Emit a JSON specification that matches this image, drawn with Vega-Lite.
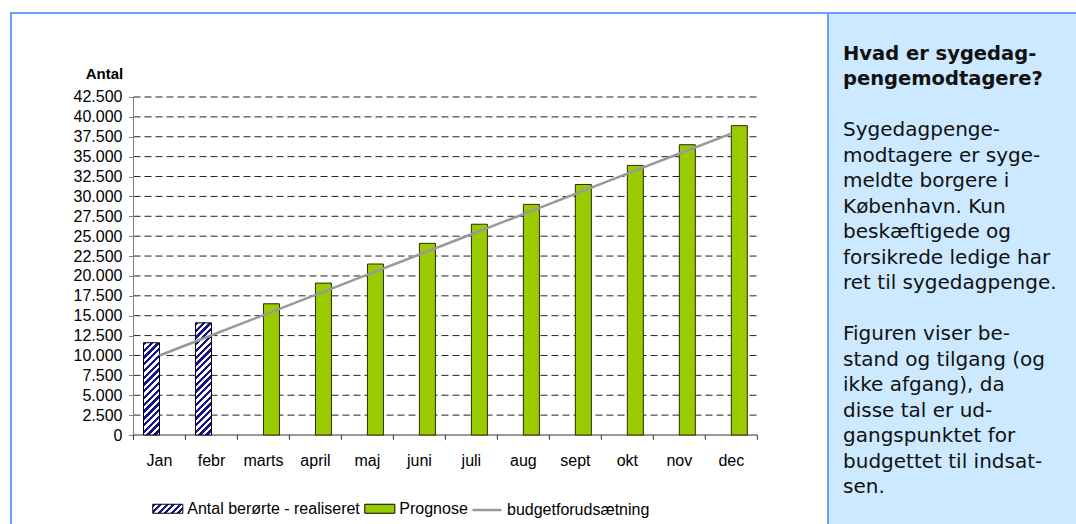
{
  "$schema": "https://vega.github.io/schema/vega-lite/v6.json",
  "padding": {"left": 10, "top": 12, "right": 0, "bottom": 0},
  "background": "white",
  "spacing": 0,
  "bounds": "flush",
  "config": {
    "font": "Liberation Sans",
    "view": {"stroke": "#6a9bff", "strokeWidth": 2},
    "axis": {"labelFont": "Liberation Sans", "titleFont": "Liberation Sans", "labelColor": "#000", "titleColor": "#000", "labelOverlap": false},
    "axisY": {"labelOverlap": false},
    "legend": {"labelFont": "Liberation Sans", "labelColor": "#000"}
  },
  "resolve": {"scale": {"x": "independent", "y": "independent"}},
  "datasets": {
    "bars": [
      {"month": "Jan", "serie": "Antal berørte - realiseret", "value": 11600},
      {"month": "febr", "serie": "Antal berørte - realiseret", "value": 14100},
      {"month": "marts", "serie": "Prognose", "value": 16500},
      {"month": "april", "serie": "Prognose", "value": 19100},
      {"month": "maj", "serie": "Prognose", "value": 21500},
      {"month": "juni", "serie": "Prognose", "value": 24100},
      {"month": "juli", "serie": "Prognose", "value": 26500},
      {"month": "aug", "serie": "Prognose", "value": 29000},
      {"month": "sept", "serie": "Prognose", "value": 31500},
      {"month": "okt", "serie": "Prognose", "value": 33900},
      {"month": "nov", "serie": "Prognose", "value": 36500},
      {"month": "dec", "serie": "Prognose", "value": 38900}
    ],
    "budget": [
      {"month": "Jan", "budget": 10000},
      {"month": "febr", "budget": 12540},
      {"month": "marts", "budget": 15080},
      {"month": "april", "budget": 17620},
      {"month": "maj", "budget": 20160},
      {"month": "juni", "budget": 22700},
      {"month": "juli", "budget": 25240},
      {"month": "aug", "budget": 27780},
      {"month": "sept", "budget": 30320},
      {"month": "okt", "budget": 32860},
      {"month": "nov", "budget": 35400},
      {"month": "dec", "budget": 37900}
    ],
    "grid": [
      {"g": 2500}, {"g": 5000}, {"g": 7500}, {"g": 10000}, {"g": 12500}, {"g": 15000},
      {"g": 17500}, {"g": 20000}, {"g": 22500}, {"g": 25000}, {"g": 27500}, {"g": 30000},
      {"g": 32500}, {"g": 35000}, {"g": 37500}, {"g": 40000}, {"g": 42500}
    ],
    "heading": [
      {"line": 0, "text": "Hvad er sygedag-"},
      {"line": 1, "text": "pengemodtagere?"}
    ],
    "body": [
      {"line": 3, "text": "Sygedagpenge-"},
      {"line": 4, "text": "modtagere er syge-"},
      {"line": 5, "text": "meldte borgere i"},
      {"line": 6, "text": "København. Kun"},
      {"line": 7, "text": "beskæftigede og"},
      {"line": 8, "text": "forsikrede ledige har"},
      {"line": 9, "text": "ret til sygedagpenge."},
      {"line": 11, "text": "Figuren viser be-"},
      {"line": 12, "text": "stand og tilgang (og"},
      {"line": 13, "text": "ikke afgang), da"},
      {"line": 14, "text": "disse tal er ud-"},
      {"line": 15, "text": "gangspunktet for"},
      {"line": 16, "text": "budgettet til indsat-"},
      {"line": 17, "text": "sen."}
    ],
    "one": [{"k": 1}]
  },
  "hconcat": [
    {
      "width": 817,
      "height": 514,
      "layer": [
        {
          "data": {"name": "grid"},
          "mark": {"type": "rule", "color": "#222222", "strokeWidth": 1, "strokeDash": [7, 4]},
          "encoding": {
            "y": {"field": "g", "type": "quantitative", "scale": {"domain": [-11568, 53062], "nice": false, "zero": false},
              "axis": {"title": "Antal", "values": [0, 2500, 5000, 7500, 10000, 12500, 15000, 17500, 20000, 22500, 25000, 27500, 30000, 32500, 35000, 37500, 40000, 42500], "domain": false, "grid": false, "offset": -122.5, "tickSize": 5, "tickColor": "#808080", "labelFontSize": 16, "labelPadding": 6.5, "labelOverlap": false, "labelFlush": false, "labelExpr": "replace(format(datum.value, ','), ',', '.')", "titleAngle": 0, "titleX": -29.5, "titleY": 65.5, "titleAlign": "center", "titleBaseline": "alphabetic", "titleFontSize": 15, "titleFontWeight": "bold"}},
            "x": {"datum": "Jan", "type": "nominal", "bandPosition": 0, "scale": {"type": "band", "domain": ["Jan", "febr", "marts", "april", "maj", "juni", "juli", "aug", "sept", "okt", "nov", "dec"], "range": [122.5, 746.3], "paddingInner": 0, "paddingOuter": 0},
              "axis": {"title": null, "domain": false, "grid": false, "ticks": true, "tickOpacity": 0, "tickSize": 5, "labelAngle": 0, "labelFontSize": 16, "labelPadding": 12, "labelOverlap": false, "offset": -92}},
            "x2": {"datum": "dec", "bandPosition": 1}
          }
        },
        {
          "data": {"name": "one"},
          "mark": {"type": "rule", "color": "#808080", "strokeWidth": 1},
          "encoding": {
            "x": {"datum": "Jan", "type": "nominal", "bandPosition": 0, "scale": {"type": "band", "domain": ["Jan", "febr", "marts", "april", "maj", "juni", "juli", "aug", "sept", "okt", "nov", "dec"], "range": [122.5, 746.3], "paddingInner": 0, "paddingOuter": 0},
              "axis": {"title": null, "domain": false, "grid": false, "ticks": true, "tickOpacity": 0, "tickSize": 5, "labelAngle": 0, "labelFontSize": 16, "labelPadding": 12, "labelOverlap": false, "offset": -92}},
            "y": {"datum": 0, "type": "quantitative", "scale": {"domain": [-11568, 53062], "nice": false, "zero": false},
              "axis": {"title": "Antal", "values": [0, 2500, 5000, 7500, 10000, 12500, 15000, 17500, 20000, 22500, 25000, 27500, 30000, 32500, 35000, 37500, 40000, 42500], "domain": false, "grid": false, "offset": -122.5, "tickSize": 5, "tickColor": "#808080", "labelFontSize": 16, "labelPadding": 6.5, "labelOverlap": false, "labelFlush": false, "labelExpr": "replace(format(datum.value, ','), ',', '.')", "titleAngle": 0, "titleX": -29.5, "titleY": 65.5, "titleAlign": "center", "titleBaseline": "alphabetic", "titleFontSize": 15, "titleFontWeight": "bold"}},
            "y2": {"datum": 42500}
          }
        },
        {
          "data": {"name": "one"},
          "mark": {"type": "rule", "color": "#333333", "strokeWidth": 1},
          "encoding": {
            "x": {"datum": "Jan", "type": "nominal", "bandPosition": 0, "scale": {"type": "band", "domain": ["Jan", "febr", "marts", "april", "maj", "juni", "juli", "aug", "sept", "okt", "nov", "dec"], "range": [122.5, 746.3], "paddingInner": 0, "paddingOuter": 0},
              "axis": {"title": null, "domain": false, "grid": false, "ticks": true, "tickOpacity": 0, "tickSize": 5, "labelAngle": 0, "labelFontSize": 16, "labelPadding": 12, "labelOverlap": false, "offset": -92}},
            "x2": {"datum": "dec", "bandPosition": 1},
            "y": {"datum": 0, "type": "quantitative", "scale": {"domain": [-11568, 53062], "nice": false, "zero": false},
              "axis": {"title": "Antal", "values": [0, 2500, 5000, 7500, 10000, 12500, 15000, 17500, 20000, 22500, 25000, 27500, 30000, 32500, 35000, 37500, 40000, 42500], "domain": false, "grid": false, "offset": -122.5, "tickSize": 5, "tickColor": "#808080", "labelFontSize": 16, "labelPadding": 6.5, "labelOverlap": false, "labelFlush": false, "labelExpr": "replace(format(datum.value, ','), ',', '.')", "titleAngle": 0, "titleX": -29.5, "titleY": 65.5, "titleAlign": "center", "titleBaseline": "alphabetic", "titleFontSize": 15, "titleFontWeight": "bold"}}
          }
        },
        {
          "data": {"name": "bars"},
          "mark": {"type": "rule", "color": "#333333", "strokeWidth": 1},
          "encoding": {
            "x": {"field": "month", "type": "nominal", "bandPosition": 0, "scale": {"type": "band", "domain": ["Jan", "febr", "marts", "april", "maj", "juni", "juli", "aug", "sept", "okt", "nov", "dec"], "range": [122.5, 746.3], "paddingInner": 0, "paddingOuter": 0},
              "axis": {"title": null, "domain": false, "grid": false, "ticks": true, "tickOpacity": 0, "tickSize": 5, "labelAngle": 0, "labelFontSize": 16, "labelPadding": 12, "labelOverlap": false, "offset": -92}},
            "y": {"datum": 0, "type": "quantitative", "scale": {"domain": [-11568, 53062], "nice": false, "zero": false},
              "axis": {"title": "Antal", "values": [0, 2500, 5000, 7500, 10000, 12500, 15000, 17500, 20000, 22500, 25000, 27500, 30000, 32500, 35000, 37500, 40000, 42500], "domain": false, "grid": false, "offset": -122.5, "tickSize": 5, "tickColor": "#808080", "labelFontSize": 16, "labelPadding": 6.5, "labelOverlap": false, "labelFlush": false, "labelExpr": "replace(format(datum.value, ','), ',', '.')", "titleAngle": 0, "titleX": -29.5, "titleY": 65.5, "titleAlign": "center", "titleBaseline": "alphabetic", "titleFontSize": 15, "titleFontWeight": "bold"}},
            "y2": {"datum": -600}
          }
        },
        {
          "data": {"name": "one"},
          "mark": {"type": "rule", "color": "#333333", "strokeWidth": 1},
          "encoding": {
            "x": {"datum": "dec", "type": "nominal", "bandPosition": 1, "scale": {"type": "band", "domain": ["Jan", "febr", "marts", "april", "maj", "juni", "juli", "aug", "sept", "okt", "nov", "dec"], "range": [122.5, 746.3], "paddingInner": 0, "paddingOuter": 0},
              "axis": {"title": null, "domain": false, "grid": false, "ticks": true, "tickOpacity": 0, "tickSize": 5, "labelAngle": 0, "labelFontSize": 16, "labelPadding": 12, "labelOverlap": false, "offset": -92}},
            "y": {"datum": 0, "type": "quantitative", "scale": {"domain": [-11568, 53062], "nice": false, "zero": false},
              "axis": {"title": "Antal", "values": [0, 2500, 5000, 7500, 10000, 12500, 15000, 17500, 20000, 22500, 25000, 27500, 30000, 32500, 35000, 37500, 40000, 42500], "domain": false, "grid": false, "offset": -122.5, "tickSize": 5, "tickColor": "#808080", "labelFontSize": 16, "labelPadding": 6.5, "labelOverlap": false, "labelFlush": false, "labelExpr": "replace(format(datum.value, ','), ',', '.')", "titleAngle": 0, "titleX": -29.5, "titleY": 65.5, "titleAlign": "center", "titleBaseline": "alphabetic", "titleFontSize": 15, "titleFontWeight": "bold"}},
            "y2": {"datum": -600}
          }
        },
        {
          "data": {"name": "bars"},
          "transform": [{"filter": "datum.month === 'Jan'"}],
          "mark": {
            "type": "bar", "stroke": "#000000", "strokeWidth": 1,
            "fill": {"gradient": "linear", "x1": 0, "y1": 0, "x2": 0.1976, "y2": 1.1392, "stops": [
              {"offset": 0, "color": "#14148a"}, {"offset": 0.03125, "color": "#14148a"}, {"offset": 0.03125, "color": "#ffffff"}, {"offset": 0.0625, "color": "#ffffff"},
              {"offset": 0.0625, "color": "#14148a"}, {"offset": 0.09375, "color": "#14148a"}, {"offset": 0.09375, "color": "#ffffff"}, {"offset": 0.125, "color": "#ffffff"},
              {"offset": 0.125, "color": "#14148a"}, {"offset": 0.15625, "color": "#14148a"}, {"offset": 0.15625, "color": "#ffffff"}, {"offset": 0.1875, "color": "#ffffff"},
              {"offset": 0.1875, "color": "#14148a"}, {"offset": 0.21875, "color": "#14148a"}, {"offset": 0.21875, "color": "#ffffff"}, {"offset": 0.25, "color": "#ffffff"},
              {"offset": 0.25, "color": "#14148a"}, {"offset": 0.28125, "color": "#14148a"}, {"offset": 0.28125, "color": "#ffffff"}, {"offset": 0.3125, "color": "#ffffff"},
              {"offset": 0.3125, "color": "#14148a"}, {"offset": 0.34375, "color": "#14148a"}, {"offset": 0.34375, "color": "#ffffff"}, {"offset": 0.375, "color": "#ffffff"},
              {"offset": 0.375, "color": "#14148a"}, {"offset": 0.40625, "color": "#14148a"}, {"offset": 0.40625, "color": "#ffffff"}, {"offset": 0.4375, "color": "#ffffff"},
              {"offset": 0.4375, "color": "#14148a"}, {"offset": 0.46875, "color": "#14148a"}, {"offset": 0.46875, "color": "#ffffff"}, {"offset": 0.5, "color": "#ffffff"},
              {"offset": 0.5, "color": "#14148a"}, {"offset": 0.53125, "color": "#14148a"}, {"offset": 0.53125, "color": "#ffffff"}, {"offset": 0.5625, "color": "#ffffff"},
              {"offset": 0.5625, "color": "#14148a"}, {"offset": 0.59375, "color": "#14148a"}, {"offset": 0.59375, "color": "#ffffff"}, {"offset": 0.625, "color": "#ffffff"},
              {"offset": 0.625, "color": "#14148a"}, {"offset": 0.65625, "color": "#14148a"}, {"offset": 0.65625, "color": "#ffffff"}, {"offset": 0.6875, "color": "#ffffff"},
              {"offset": 0.6875, "color": "#14148a"}, {"offset": 0.71875, "color": "#14148a"}, {"offset": 0.71875, "color": "#ffffff"}, {"offset": 0.75, "color": "#ffffff"},
              {"offset": 0.75, "color": "#14148a"}, {"offset": 0.78125, "color": "#14148a"}, {"offset": 0.78125, "color": "#ffffff"}, {"offset": 0.8125, "color": "#ffffff"},
              {"offset": 0.8125, "color": "#14148a"}, {"offset": 0.84375, "color": "#14148a"}, {"offset": 0.84375, "color": "#ffffff"}, {"offset": 0.875, "color": "#ffffff"},
              {"offset": 0.875, "color": "#14148a"}, {"offset": 0.90625, "color": "#14148a"}, {"offset": 0.90625, "color": "#ffffff"}, {"offset": 0.9375, "color": "#ffffff"},
              {"offset": 0.9375, "color": "#14148a"}, {"offset": 0.96875, "color": "#14148a"}, {"offset": 0.96875, "color": "#ffffff"}, {"offset": 1, "color": "#ffffff"}
            ]}
          },
          "encoding": {
            "x": {"field": "month", "type": "nominal", "scale": {"type": "band", "domain": ["Jan", "febr", "marts", "april", "maj", "juni", "juli", "aug", "sept", "okt", "nov", "dec"], "range": [122.5, 746.3], "paddingInner": 0, "paddingOuter": 0},
              "axis": {"title": null, "domain": false, "grid": false, "ticks": true, "tickOpacity": 0, "tickSize": 5, "labelAngle": 0, "labelFontSize": 16, "labelPadding": 12, "labelOverlap": false, "offset": -92}},
            "xOffset": {"field": "serie", "type": "nominal", "scale": {"domain": ["Antal berørte - realiseret", "Prognose"], "paddingInner": 0, "paddingOuter": 0.6244}},
            "y": {"field": "value", "type": "quantitative", "scale": {"domain": [-11568, 53062], "nice": false, "zero": false},
              "axis": {"title": "Antal", "values": [0, 2500, 5000, 7500, 10000, 12500, 15000, 17500, 20000, 22500, 25000, 27500, 30000, 32500, 35000, 37500, 40000, 42500], "domain": false, "grid": false, "offset": -122.5, "tickSize": 5, "tickColor": "#808080", "labelFontSize": 16, "labelPadding": 6.5, "labelOverlap": false, "labelFlush": false, "labelExpr": "replace(format(datum.value, ','), ',', '.')", "titleAngle": 0, "titleX": -29.5, "titleY": 65.5, "titleAlign": "center", "titleBaseline": "alphabetic", "titleFontSize": 15, "titleFontWeight": "bold"}},
            "y2": {"datum": 0}
          }
        },
        {
          "data": {"name": "bars"},
          "transform": [{"filter": "datum.month === 'febr'"}],
          "mark": {
            "type": "bar", "stroke": "#000000", "strokeWidth": 1,
            "fill": {"gradient": "linear", "x1": 0, "y1": 0, "x2": 0.1599, "y2": 1.12, "stops": [
              {"offset": 0, "color": "#14148a"}, {"offset": 0.02632, "color": "#14148a"}, {"offset": 0.02632, "color": "#ffffff"}, {"offset": 0.05263, "color": "#ffffff"},
              {"offset": 0.05263, "color": "#14148a"}, {"offset": 0.07895, "color": "#14148a"}, {"offset": 0.07895, "color": "#ffffff"}, {"offset": 0.10526, "color": "#ffffff"},
              {"offset": 0.10526, "color": "#14148a"}, {"offset": 0.13158, "color": "#14148a"}, {"offset": 0.13158, "color": "#ffffff"}, {"offset": 0.15789, "color": "#ffffff"},
              {"offset": 0.15789, "color": "#14148a"}, {"offset": 0.18421, "color": "#14148a"}, {"offset": 0.18421, "color": "#ffffff"}, {"offset": 0.21053, "color": "#ffffff"},
              {"offset": 0.21053, "color": "#14148a"}, {"offset": 0.23684, "color": "#14148a"}, {"offset": 0.23684, "color": "#ffffff"}, {"offset": 0.26316, "color": "#ffffff"},
              {"offset": 0.26316, "color": "#14148a"}, {"offset": 0.28947, "color": "#14148a"}, {"offset": 0.28947, "color": "#ffffff"}, {"offset": 0.31579, "color": "#ffffff"},
              {"offset": 0.31579, "color": "#14148a"}, {"offset": 0.34211, "color": "#14148a"}, {"offset": 0.34211, "color": "#ffffff"}, {"offset": 0.36842, "color": "#ffffff"},
              {"offset": 0.36842, "color": "#14148a"}, {"offset": 0.39474, "color": "#14148a"}, {"offset": 0.39474, "color": "#ffffff"}, {"offset": 0.42105, "color": "#ffffff"},
              {"offset": 0.42105, "color": "#14148a"}, {"offset": 0.44737, "color": "#14148a"}, {"offset": 0.44737, "color": "#ffffff"}, {"offset": 0.47368, "color": "#ffffff"},
              {"offset": 0.47368, "color": "#14148a"}, {"offset": 0.5, "color": "#14148a"}, {"offset": 0.5, "color": "#ffffff"}, {"offset": 0.52632, "color": "#ffffff"},
              {"offset": 0.52632, "color": "#14148a"}, {"offset": 0.55263, "color": "#14148a"}, {"offset": 0.55263, "color": "#ffffff"}, {"offset": 0.57895, "color": "#ffffff"},
              {"offset": 0.57895, "color": "#14148a"}, {"offset": 0.60526, "color": "#14148a"}, {"offset": 0.60526, "color": "#ffffff"}, {"offset": 0.63158, "color": "#ffffff"},
              {"offset": 0.63158, "color": "#14148a"}, {"offset": 0.65789, "color": "#14148a"}, {"offset": 0.65789, "color": "#ffffff"}, {"offset": 0.68421, "color": "#ffffff"},
              {"offset": 0.68421, "color": "#14148a"}, {"offset": 0.71053, "color": "#14148a"}, {"offset": 0.71053, "color": "#ffffff"}, {"offset": 0.73684, "color": "#ffffff"},
              {"offset": 0.73684, "color": "#14148a"}, {"offset": 0.76316, "color": "#14148a"}, {"offset": 0.76316, "color": "#ffffff"}, {"offset": 0.78947, "color": "#ffffff"},
              {"offset": 0.78947, "color": "#14148a"}, {"offset": 0.81579, "color": "#14148a"}, {"offset": 0.81579, "color": "#ffffff"}, {"offset": 0.84211, "color": "#ffffff"},
              {"offset": 0.84211, "color": "#14148a"}, {"offset": 0.86842, "color": "#14148a"}, {"offset": 0.86842, "color": "#ffffff"}, {"offset": 0.89474, "color": "#ffffff"},
              {"offset": 0.89474, "color": "#14148a"}, {"offset": 0.92105, "color": "#14148a"}, {"offset": 0.92105, "color": "#ffffff"}, {"offset": 0.94737, "color": "#ffffff"},
              {"offset": 0.94737, "color": "#14148a"}, {"offset": 0.97368, "color": "#14148a"}, {"offset": 0.97368, "color": "#ffffff"}, {"offset": 1, "color": "#ffffff"}
            ]}
          },
          "encoding": {
            "x": {"field": "month", "type": "nominal", "scale": {"type": "band", "domain": ["Jan", "febr", "marts", "april", "maj", "juni", "juli", "aug", "sept", "okt", "nov", "dec"], "range": [122.5, 746.3], "paddingInner": 0, "paddingOuter": 0},
              "axis": {"title": null, "domain": false, "grid": false, "ticks": true, "tickOpacity": 0, "tickSize": 5, "labelAngle": 0, "labelFontSize": 16, "labelPadding": 12, "labelOverlap": false, "offset": -92}},
            "xOffset": {"field": "serie", "type": "nominal", "scale": {"domain": ["Antal berørte - realiseret", "Prognose"], "paddingInner": 0, "paddingOuter": 0.6244}},
            "y": {"field": "value", "type": "quantitative", "scale": {"domain": [-11568, 53062], "nice": false, "zero": false},
              "axis": {"title": "Antal", "values": [0, 2500, 5000, 7500, 10000, 12500, 15000, 17500, 20000, 22500, 25000, 27500, 30000, 32500, 35000, 37500, 40000, 42500], "domain": false, "grid": false, "offset": -122.5, "tickSize": 5, "tickColor": "#808080", "labelFontSize": 16, "labelPadding": 6.5, "labelOverlap": false, "labelFlush": false, "labelExpr": "replace(format(datum.value, ','), ',', '.')", "titleAngle": 0, "titleX": -29.5, "titleY": 65.5, "titleAlign": "center", "titleBaseline": "alphabetic", "titleFontSize": 15, "titleFontWeight": "bold"}},
            "y2": {"datum": 0}
          }
        },
        {
          "data": {"name": "bars"},
          "transform": [{"filter": "datum.serie === 'Prognose'"}],
          "mark": {"type": "bar", "stroke": "#2b2b00", "strokeWidth": 1},
          "encoding": {
            "x": {"field": "month", "type": "nominal", "scale": {"type": "band", "domain": ["Jan", "febr", "marts", "april", "maj", "juni", "juli", "aug", "sept", "okt", "nov", "dec"], "range": [122.5, 746.3], "paddingInner": 0, "paddingOuter": 0},
              "axis": {"title": null, "domain": false, "grid": false, "ticks": true, "tickOpacity": 0, "tickSize": 5, "labelAngle": 0, "labelFontSize": 16, "labelPadding": 12, "labelOverlap": false, "offset": -92}},
            "xOffset": {"field": "serie", "type": "nominal", "scale": {"domain": ["Antal berørte - realiseret", "Prognose"], "paddingInner": 0, "paddingOuter": 0.6244}},
            "y": {"field": "value", "type": "quantitative", "scale": {"domain": [-11568, 53062], "nice": false, "zero": false},
              "axis": {"title": "Antal", "values": [0, 2500, 5000, 7500, 10000, 12500, 15000, 17500, 20000, 22500, 25000, 27500, 30000, 32500, 35000, 37500, 40000, 42500], "domain": false, "grid": false, "offset": -122.5, "tickSize": 5, "tickColor": "#808080", "labelFontSize": 16, "labelPadding": 6.5, "labelOverlap": false, "labelFlush": false, "labelExpr": "replace(format(datum.value, ','), ',', '.')", "titleAngle": 0, "titleX": -29.5, "titleY": 65.5, "titleAlign": "center", "titleBaseline": "alphabetic", "titleFontSize": 15, "titleFontWeight": "bold"}},
            "y2": {"datum": 0},
            "color": {
              "field": "serie", "type": "nominal",
              "scale": {"domain": ["Antal berørte - realiseret", "Prognose"], "range": [
                {"expr": "{gradient: 'linear', x1: 0, y1: 0, x2: 1.193, y2: 0.358, stops: [{offset: 0, color: '#14148a'}, {offset: 0.0833, color: '#14148a'}, {offset: 0.0833, color: '#ffffff'}, {offset: 0.1667, color: '#ffffff'}, {offset: 0.1667, color: '#14148a'}, {offset: 0.25, color: '#14148a'}, {offset: 0.25, color: '#ffffff'}, {offset: 0.3333, color: '#ffffff'}, {offset: 0.3333, color: '#14148a'}, {offset: 0.4167, color: '#14148a'}, {offset: 0.4167, color: '#ffffff'}, {offset: 0.5, color: '#ffffff'}, {offset: 0.5, color: '#14148a'}, {offset: 0.5833, color: '#14148a'}, {offset: 0.5833, color: '#ffffff'}, {offset: 0.6667, color: '#ffffff'}, {offset: 0.6667, color: '#14148a'}, {offset: 0.75, color: '#14148a'}, {offset: 0.75, color: '#ffffff'}, {offset: 0.8333, color: '#ffffff'}, {offset: 0.8333, color: '#14148a'}, {offset: 0.9167, color: '#14148a'}, {offset: 0.9167, color: '#ffffff'}, {offset: 1, color: '#ffffff'}]}"},
                "#99cc00"
              ]},
              "legend": {
                "orient": "none", "legendX": 141.3, "legendY": 480, "direction": "horizontal", "title": null,
                "labelFontSize": 16, "labelLimit": 400, "symbolType": "M-1,-0.3H1V0.3H-1Z", "symbolSize": 900,
                "symbolStrokeColor": "#000000", "symbolStrokeWidth": 1, "symbolOpacity": 1,
                "labelOffset": 4, "columnPadding": 2
              }
            }
          }
        },
        {
          "data": {"name": "budget"},
          "mark": {"type": "line", "strokeWidth": 2.5},
          "encoding": {
            "x": {"field": "month", "type": "nominal", "scale": {"type": "band", "domain": ["Jan", "febr", "marts", "april", "maj", "juni", "juli", "aug", "sept", "okt", "nov", "dec"], "range": [122.5, 746.3], "paddingInner": 0, "paddingOuter": 0},
              "axis": {"title": null, "domain": false, "grid": false, "ticks": true, "tickOpacity": 0, "tickSize": 5, "labelAngle": 0, "labelFontSize": 16, "labelPadding": 12, "labelOverlap": false, "offset": -92}},
            "y": {"field": "budget", "type": "quantitative", "scale": {"domain": [-11568, 53062], "nice": false, "zero": false},
              "axis": {"title": "Antal", "values": [0, 2500, 5000, 7500, 10000, 12500, 15000, 17500, 20000, 22500, 25000, 27500, 30000, 32500, 35000, 37500, 40000, 42500], "domain": false, "grid": false, "offset": -122.5, "tickSize": 5, "tickColor": "#808080", "labelFontSize": 16, "labelPadding": 6.5, "labelOverlap": false, "labelFlush": false, "labelExpr": "replace(format(datum.value, ','), ',', '.')", "titleAngle": 0, "titleX": -29.5, "titleY": 65.5, "titleAlign": "center", "titleBaseline": "alphabetic", "titleFontSize": 15, "titleFontWeight": "bold"}},
            "stroke": {
              "datum": "budgetforudsætning", "type": "nominal",
              "scale": {"domain": ["budgetforudsætning"], "range": ["#999999"]},
              "legend": {
                "orient": "none", "legendX": 460, "legendY": 481, "title": null,
                "labelFontSize": 16, "labelLimit": 400, "symbolType": "stroke", "symbolSize": 841,
                "symbolStrokeWidth": 2.5, "labelOffset": 4
              }
            }
          }
        }
      ]
    },
    {
      "width": 251,
      "height": 514,
      "view": {"fill": "#cce9ff"},
      "layer": [
        {
          "data": {"name": "heading"},
          "mark": {"type": "text", "align": "left", "baseline": "alphabetic", "font": "DejaVu Sans", "fontSize": 19.5, "fontWeight": "bold", "color": "#111111"},
          "encoding": {
            "x": {"datum": 0, "type": "quantitative", "scale": {"domain": [-0.0598, 0.9402], "nice": false, "zero": false}, "axis": null},
            "y": {"field": "line", "type": "quantitative", "scale": {"domain": [-1.8235, 18.333], "nice": false, "zero": false, "reverse": true}, "axis": null},
            "text": {"field": "text"}
          }
        },
        {
          "data": {"name": "body"},
          "mark": {"type": "text", "align": "left", "baseline": "alphabetic", "font": "DejaVu Sans", "fontSize": 20, "color": "#111111"},
          "encoding": {
            "x": {"datum": 0, "type": "quantitative", "scale": {"domain": [-0.0598, 0.9402], "nice": false, "zero": false}, "axis": null},
            "y": {"field": "line", "type": "quantitative", "scale": {"domain": [-1.8235, 18.333], "nice": false, "zero": false, "reverse": true}, "axis": null},
            "text": {"field": "text"}
          }
        }
      ]
    }
  ]
}
